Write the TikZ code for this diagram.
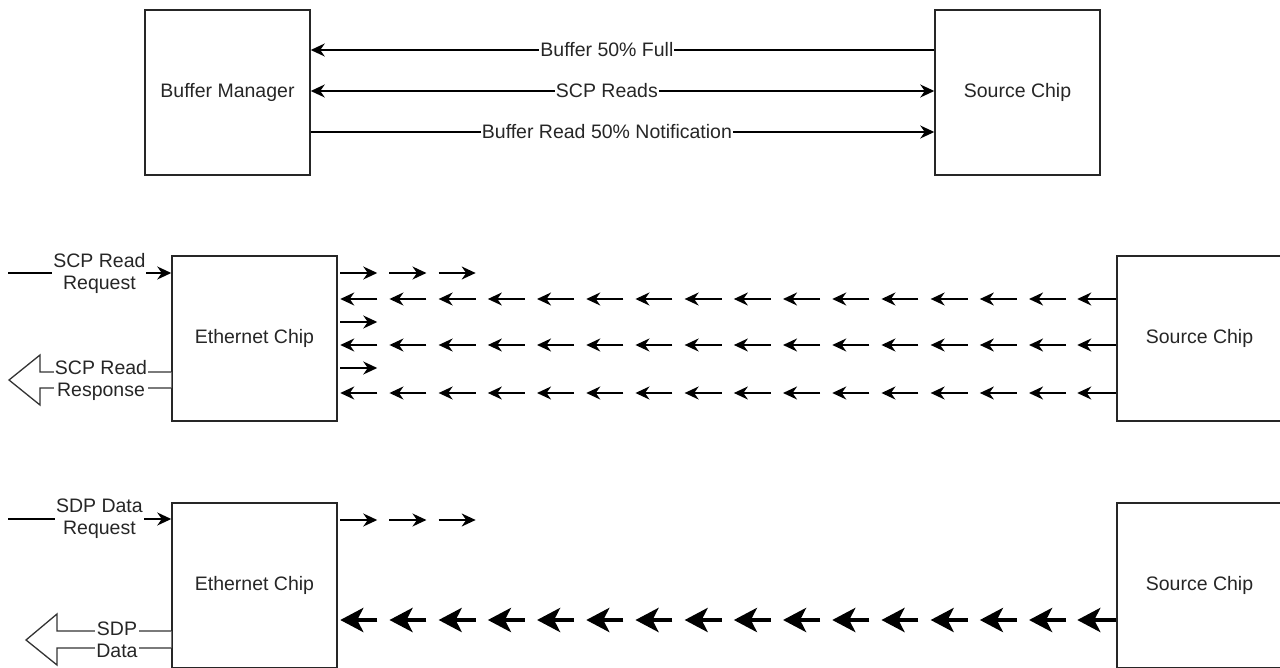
\documentclass[tikz,border=0pt]{standalone}
\usepackage{fontspec}
\setmainfont{Liberation Sans}
\usetikzlibrary{arrows.meta,calc}
\begin{document}
\begin{tikzpicture}[x=1pt,y=-1pt,
  box/.style={draw=black!85, line width=1.5pt, minimum width=165pt, minimum height=165pt, inner sep=0pt, text=black!85, font=\fontsize{19.5}{22}\selectfont},
  lbl/.style={fill=white, inner sep=1pt, align=center, text=black!85, font=\fontsize{19.5}{22}\selectfont},
  arr/.style={line width=1.6pt, -{Stealth[length=14pt,width=13pt,inset=4.5pt]}},
  barr/.style={line width=1.6pt, {Stealth[length=14pt,width=13pt,inset=4.5pt]}-{Stealth[length=14pt,width=13pt,inset=4.5pt]}},
  boldarr/.style={line width=4.5pt, -{Stealth[length=23pt,width=24pt,inset=6pt]}},
  blockarr/.style={draw=black!80, line width=1.3pt, fill=white}]

\useasboundingbox (0,0) rectangle (1280,668);

% boxes
\node[box] (bm)   at (227.5,92.5)  {Buffer Manager};
\node[box] (sc1)  at (1017.5,92.5) {Source Chip};
\node[box] (eth1) at (254.5,338.5) {Ethernet Chip};
\node[box] (sc2)  at (1199.5,338.5) {Source Chip};
\node[box] (eth2) at (254.5,585.5) {Ethernet Chip};
\node[box] (sc3)  at (1199.5,585.5) {Source Chip};

% top connectors
\draw[arr]  (sc1.west |- 0,50) -- node[lbl,pos=0.525] {Buffer 50\% Full} (bm.east |- 0,50);
\draw[barr] (bm.east |- 0,91) -- node[lbl,pos=0.475] {SCP Reads} (sc1.west |- 0,91);
\draw[arr]  (bm.east |- 0,132) -- node[lbl,pos=0.475] {Buffer Read 50\% Notification} (sc1.west |- 0,132);

% middle section
\coordinate (in1) at (8,273);
\draw[arr] (in1) -- node[lbl,pos=0.56] {SCP Read\\Request} (eth1.west |- in1);
\coordinate (out1) at (9,380);
\filldraw[blockarr] (eth1.west |- 0,372) -- (40,372) -- (40,355) -- (out1) -- (40,405) -- (40,388) -- (eth1.west |- 0,388);
\node[lbl] (out1lbl) at (101,380) {SCP Read\\Response};

\foreach \k in {0,1,2}
  \draw[arr] ($(eth1.east |- 0,273)+(2.5+\k*49.2,0)$) -- ++(37,0);
\foreach \yy in {322,368}
  \draw[arr] ($(eth1.east |- 0,\yy)+(2.5,0)$) -- ++(37,0);
\foreach \yy in {299,345,393}{
  \foreach \k in {0,...,14}
    \draw[arr] ($(eth1.east |- 0,\yy)+(39.5+\k*49.2,0)$) -- ++(-37,0);
  \draw[arr] (sc2.west |- 0,\yy) -- ++(-39,0);
}

% bottom section
\coordinate (in2) at (8,519);
\draw[arr] (in2) -- node[lbl,pos=0.56] {SDP Data\\Request} (eth2.west |- in2);
\coordinate (out2) at (26,640);
\filldraw[blockarr] (eth2.west |- 0,631) -- (57,631) -- (57,614) -- (out2) -- (57,665) -- (57,648) -- (eth2.west |- 0,648);
\node[lbl] (out2lbl) at (117,640) {SDP\\Data};

\foreach \k in {0,1,2}
  \draw[arr] ($(eth2.east |- 0,520)+(2.5+\k*49.2,0)$) -- ++(37,0);
\foreach \k in {0,...,14}
  \draw[boldarr] ($(eth2.east |- 0,620)+(39.5+\k*49.2,0)$) -- ++(-37,0);
\draw[boldarr] (sc3.west |- 0,620) -- ++(-39,0);

\end{tikzpicture}
\end{document}
